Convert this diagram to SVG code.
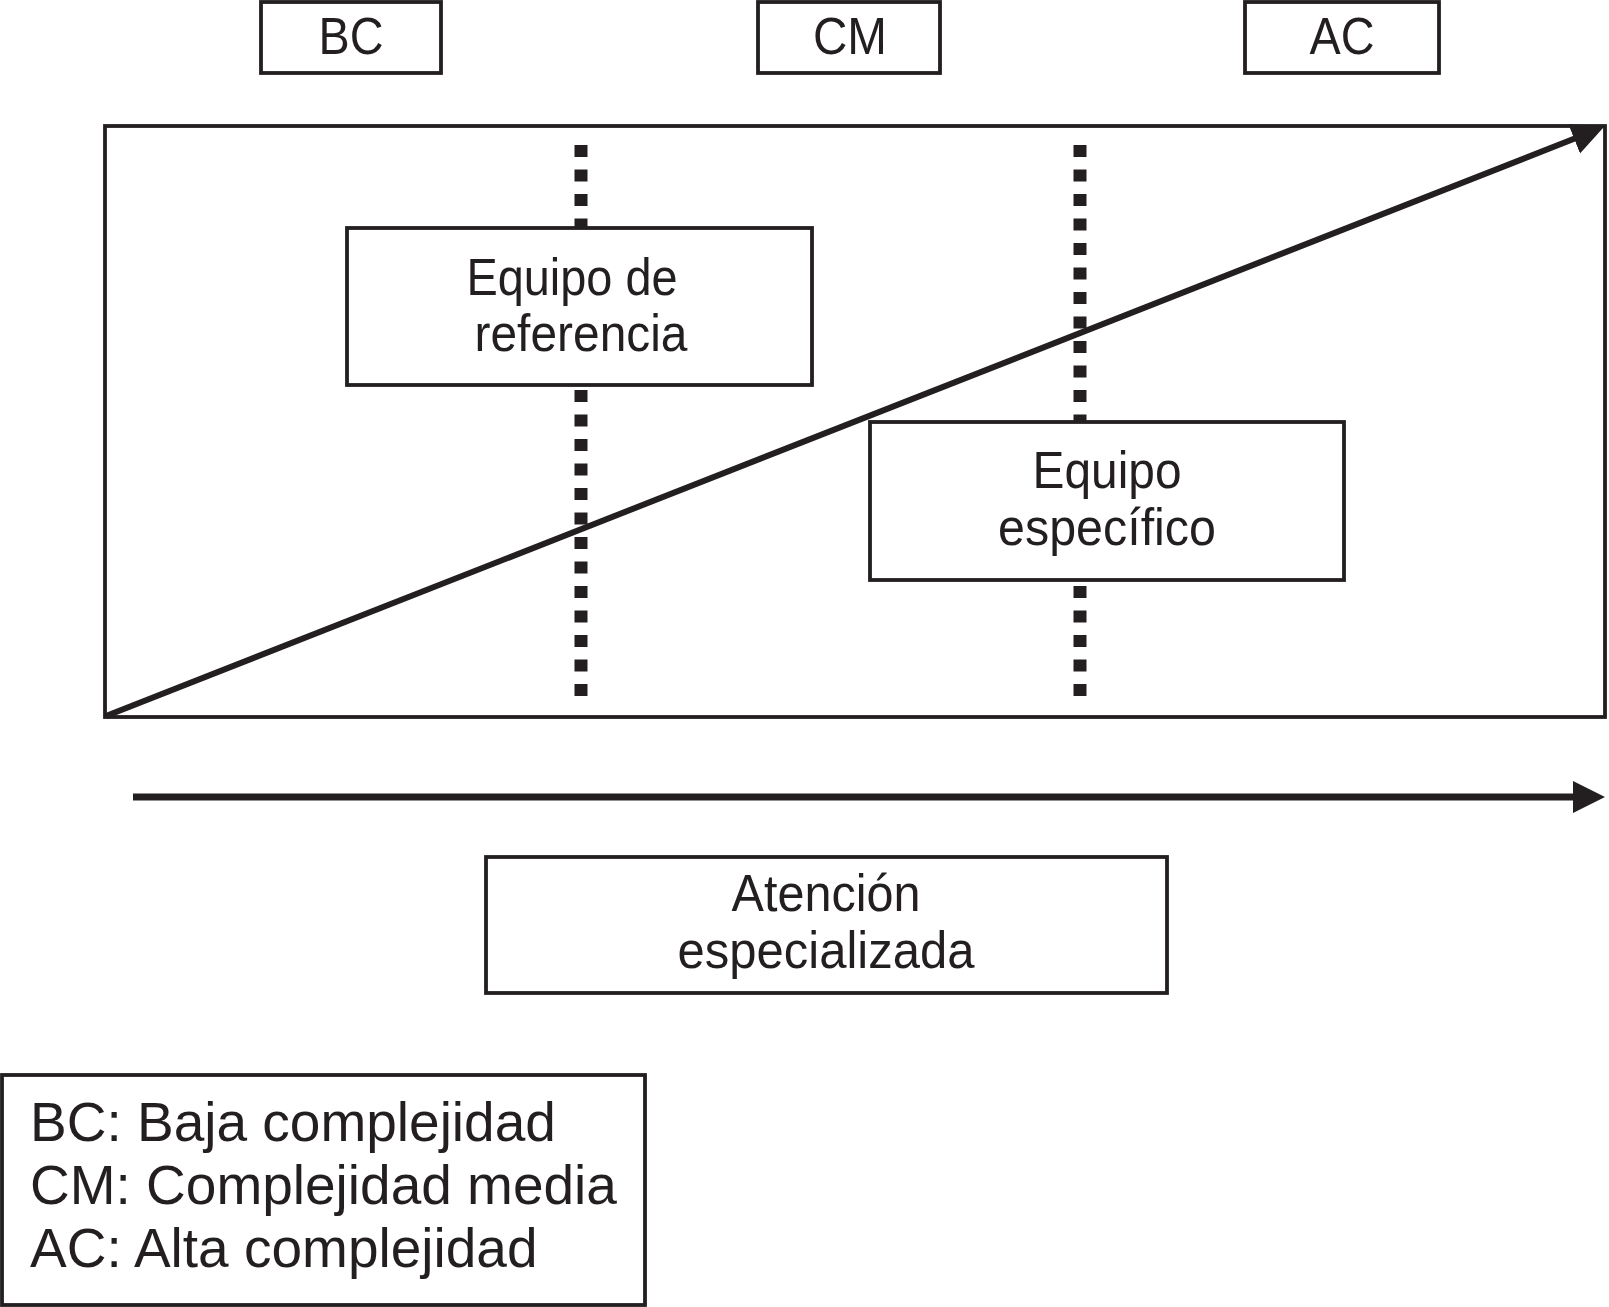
<svg xmlns="http://www.w3.org/2000/svg" width="1609" height="1307" viewBox="0 0 1609 1307">
<style>
.box{fill:#fff;stroke:#231f20;stroke-width:3.8}
.frame{fill:none;stroke:#231f20;stroke-width:3.8}
.dots{stroke:#231f20;stroke-width:13;stroke-dasharray:12 12.5;fill:none}
.arrow{stroke:#231f20;fill:none}
text{font-family:"Liberation Sans",Arial,Helvetica,sans-serif;fill:#231f20}
.lbl{font-size:52px;text-anchor:middle}
.leg{font-size:55px}
</style>
<defs>
<marker id="head" markerUnits="userSpaceOnUse" markerWidth="34" markerHeight="34" refX="2" refY="16" orient="auto" viewBox="0 0 34 34">
<path d="M0,0 L32,16 L0,32 z" fill="#231f20"/>
</marker>
</defs>
<rect x="0" y="0" width="1609" height="1307" fill="#fff"/>
<g id="top-labels">
<g id="bc"><rect class="box" x="261" y="2" width="180" height="71"/><text class="lbl" x="351" y="54" textLength="65" lengthAdjust="spacingAndGlyphs">BC</text></g>
<g id="cm"><rect class="box" x="758" y="2" width="182" height="71"/><text class="lbl" x="850" y="54" textLength="74" lengthAdjust="spacingAndGlyphs">CM</text></g>
<g id="ac"><rect class="box" x="1245" y="2" width="194" height="71"/><text class="lbl" x="1342" y="54" textLength="65" lengthAdjust="spacingAndGlyphs">AC</text></g>
</g>
<g id="frame"><rect class="frame" x="105" y="126" width="1500" height="591"/></g>
<g id="dividers">
<line class="dots" x1="581" y1="145" x2="581" y2="696"/>
<line class="dots" x1="1080" y1="145" x2="1080" y2="696"/>
</g>
<g id="equipo-referencia"><rect class="box" x="347" y="228" width="465" height="157"/>
<text class="lbl" x="572" y="295" textLength="211" lengthAdjust="spacingAndGlyphs">Equipo de</text><text class="lbl" x="581" y="351" textLength="213" lengthAdjust="spacingAndGlyphs">referencia</text></g>
<g id="equipo-especifico"><rect class="box" x="870" y="422" width="474" height="158"/>
<text class="lbl" x="1107" y="488" textLength="149" lengthAdjust="spacingAndGlyphs">Equipo</text><text class="lbl" x="1107" y="545" textLength="218" lengthAdjust="spacingAndGlyphs">específico</text></g>
<g id="connectors">
<line class="arrow" stroke-width="6" x1="106" y1="716" x2="1576" y2="138" marker-end="url(#head)"/>
<line class="arrow" stroke-width="7" x1="133" y1="797" x2="1575" y2="797" marker-end="url(#head)"/>
</g>
<g id="atencion"><rect class="box" x="486" y="857" width="681" height="136"/>
<text class="lbl" x="826" y="911" textLength="189" lengthAdjust="spacingAndGlyphs">Atención</text><text class="lbl" x="826" y="968" textLength="297" lengthAdjust="spacingAndGlyphs">especializada</text></g>
<g id="legend"><rect class="box" x="2" y="1075" width="643" height="230"/>
<text class="leg" x="30" y="1141">BC: Baja complejidad</text>
<text class="leg" x="30" y="1204">CM: Complejidad media</text>
<text class="leg" x="30" y="1267">AC: Alta complejidad</text></g>
</svg>
